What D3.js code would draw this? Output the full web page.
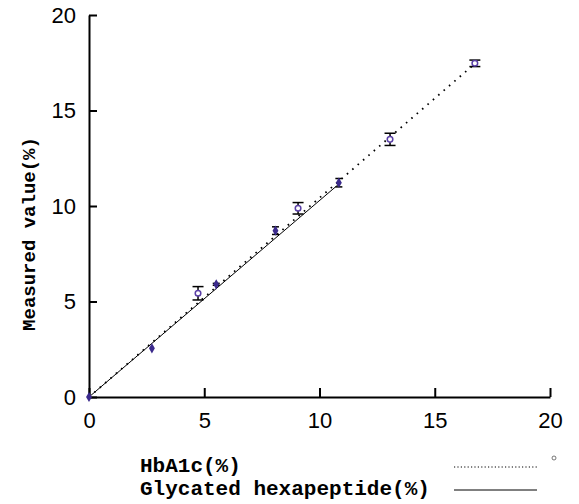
<!DOCTYPE html>
<html>
<head>
  <meta charset="utf-8">
  <script src="https://d3js.org/d3.v7.min.js"></script>
  <style>
    body { margin: 0; background: #fff; }
    .axis path, .axis line { stroke: #000; stroke-width: 2px; }
    .axis text { font-family: "Liberation Sans", Arial, sans-serif; font-size: 22px; fill: #000; }
    .title { font-family: "Liberation Mono", "Courier New", monospace; font-weight: bold; fill: #000; }
  </style>
</head>
<body>
  <svg id="chart" width="579" height="504"></svg>
  <script>
    // HbA1c (open circles, dotted fit)
    const hbX   = [4.73, 9.07, 13.06, 16.74];
    const hbY   = [5.43, 9.88, 13.49, 17.47];
    const hbErr = [0.35, 0.30, 0.32, 0.17];
    const hbFitX = [0, 16.74];
    const hbFitY = [0, 17.45];

    // Glycated hexapeptide (filled markers, solid fit)
    const glyX   = [0, 2.73, 5.52, 8.09, 10.84];
    const glyY   = [0, 2.55, 5.90, 8.71, 11.22];
    const glyErr = [0, 0, 0.05, 0.20, 0.22];
    const glyFitX = [0, 10.84];
    const glyFitY = [0, 11.15];

    const ticks = [0, 5, 10, 15, 20];

    const svg = d3.select("#chart");
    const x = d3.scaleLinear().domain([0, 20]).range([89, 550]);
    const y = d3.scaleLinear().domain([0, 20]).range([397, 15]);

    // axes, ticks pointing inward
    svg.append("g").attr("class", "axis")
       .attr("transform", `translate(0,${y(0)})`)
       .call(d3.axisBottom(x).tickValues(ticks).tickSize(-9).tickPadding(14).tickSizeOuter(0))
       .selectAll("text").attr("dy", "0.71em");
    svg.selectAll(".axis").filter((d, i) => i == 0).selectAll("text").attr("y", 15);

    let yAx = svg.append("g").attr("class", "axis")
       .attr("transform", `translate(${x(0)},0)`)
       .call(d3.axisLeft(y).tickValues(ticks).tickSize(-8).tickPadding(13).tickSizeOuter(0));
    yAx.selectAll("text").attr("x", -13);

    // fit lines
    const line = d3.line().x(d => x(d[0])).y(d => y(d[1]));
    svg.append("path").datum(d3.zip(glyFitX, glyFitY))
       .attr("d", line).attr("fill", "none").attr("stroke", "#000").attr("stroke-width", 1);
    svg.append("path").datum(d3.zip(hbFitX, hbFitY))
       .attr("d", line).attr("fill", "none").attr("stroke", "#000")
       .attr("stroke-width", 1.8).attr("stroke-dasharray", "1.6,5.5");

    // error bars
    function errBars(xs, ys, es, cap) {
      const g = svg.append("g").attr("stroke", "#000").attr("stroke-width", 1.5);
      xs.forEach((v, i) => {
        if (es[i] <= 0) return;
        const cx = x(v), t = y(ys[i] + es[i]), b = y(ys[i] - es[i]);
        g.append("line").attr("x1", cx).attr("x2", cx).attr("y1", t).attr("y2", b);
        g.append("line").attr("x1", cx - cap).attr("x2", cx + cap).attr("y1", t).attr("y2", t);
        g.append("line").attr("x1", cx - cap).attr("x2", cx + cap).attr("y1", b).attr("y2", b);
      });
    }
    errBars(hbX, hbY, hbErr, 5.5);
    errBars(glyX, glyY, glyErr, 3.5);

    // markers
    svg.append("g").selectAll("path")
       .data(d3.zip(glyX, glyY)).join("path")
       .attr("transform", d => `translate(${x(d[0])},${y(d[1])})`)
       .attr("d", d3.symbol(d3.symbolDiamond, 30))
       .attr("fill", "#3b2a8c");
    svg.append("g").selectAll("circle")
       .data(d3.zip(hbX, hbY)).join("circle")
       .attr("cx", d => x(d[0])).attr("cy", d => y(d[1])).attr("r", 2.8)
       .attr("fill", "#fff").attr("stroke", "#5a3fa6").attr("stroke-width", 1.5);

    // y title
    svg.append("text").attr("class", "title")
       .attr("transform", `translate(35,${(y(0) + y(20)) / 2 + 28}) rotate(-90)`)
       .attr("text-anchor", "middle").style("font-size", "19px")
       .text("Measured value(%)");

    // legend
    const leg = [
      { name: "HbA1c(%)", ty: 472, ly: 467, dash: "1.2,2.2" },
      { name: "Glycated hexapeptide(%)", ty: 495, ly: 490, dash: null }
    ];
    leg.forEach(l => {
      svg.append("text").attr("class", "title").attr("x", 140).attr("y", l.ty)
         .style("font-size", "21px").text(l.name);
      svg.append("line").attr("x1", 454).attr("x2", 537).attr("y1", l.ly).attr("y2", l.ly)
         .attr("stroke", "#000").attr("stroke-width", 1)
         .attr("stroke-dasharray", l.dash);
    });
    svg.append("circle").attr("cx", 554).attr("cy", 458).attr("r", 2)
       .attr("fill", "none").attr("stroke", "#555").attr("stroke-width", 0.8);
  </script>
</body>
</html>
